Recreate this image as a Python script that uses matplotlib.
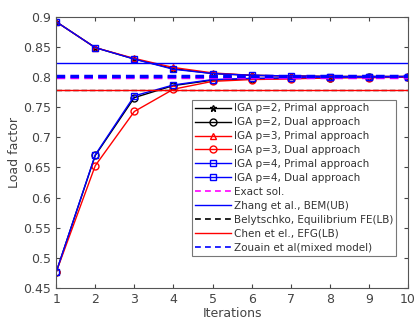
import matplotlib.pyplot as plt
import numpy as np

# iterations
it = np.arange(1, 11)

# primal (upper bound) load factors
p2_primal = [0.892, 0.849, 0.830, 0.814, 0.806, 0.803, 0.802, 0.801, 0.801, 0.801]
p3_primal = [0.892, 0.849, 0.831, 0.816, 0.807, 0.803, 0.802, 0.801, 0.801, 0.801]
p4_primal = [0.892, 0.849, 0.830, 0.813, 0.806, 0.803, 0.802, 0.801, 0.801, 0.801]

# dual (lower bound) load factors
p2_dual = [0.476, 0.670, 0.766, 0.786, 0.795, 0.797, 0.798, 0.799, 0.800, 0.800]
p3_dual = [0.476, 0.653, 0.743, 0.780, 0.793, 0.796, 0.797, 0.799, 0.799, 0.800]
p4_dual = [0.476, 0.671, 0.769, 0.787, 0.796, 0.798, 0.799, 0.800, 0.800, 0.801]

# reference solutions
exact = 0.800
zhang_bem = 0.823
belytschko = 0.778
chen_efg = 0.779
zouain = 0.802

plt.rcParams['font.family'] = ['DejaVu Sans']
fig = plt.figure(figsize=(4.19, 3.25), dpi=100)
ax = fig.add_axes([0.134, 0.114, 0.840, 0.834])

lw = 1.0
ms = 5
ax.plot(it, p2_primal, color='k', marker='*', ms=ms, lw=lw, mfc='none', label='IGA p=2, Primal approach')
ax.plot(it, p2_dual, color='k', marker='o', ms=ms, lw=lw, mfc='none', label='IGA p=2, Dual approach')
ax.plot(it, p3_primal, color='r', marker='^', ms=ms, lw=lw, mfc='none', label='IGA p=3, Primal approach')
ax.plot(it, p3_dual, color='r', marker='o', ms=ms, lw=lw, mfc='none', label='IGA p=3, Dual approach')
ax.plot(it, p4_primal, color='b', marker='s', ms=ms - 1, lw=lw, mfc='none', label='IGA p=4, Primal approach')
ax.plot(it, p4_dual, color='b', marker='s', ms=ms - 1, lw=lw, mfc='none', label='IGA p=4, Dual approach')

ax.axhline(exact, color='magenta', ls='--', lw=2.5, dashes=(2.5, 1.5), label='Exact sol.')
ax.axhline(zhang_bem, color='b', ls='-', lw=1.0, label='Zhang et al., BEM(UB)')
ax.axhline(belytschko, color='k', ls='--', lw=1.0, dashes=(4, 2), label='Belytschko, Equilibrium FE(LB)')
ax.axhline(chen_efg, color='r', ls='-', lw=1.0, label='Chen et el., EFG(LB)')
ax.axhline(zouain, color='b', ls='--', lw=2.5, dashes=(2.5, 1.5), label='Zouain et al(mixed model)')

ax.set_xlim(1, 10)
ax.set_ylim(0.45, 0.9)
ax.set_xticks(range(1, 11))
ax.set_yticks(np.arange(0.45, 0.901, 0.05))
ax.set_yticklabels(['0.45', '0.5', '0.55', '0.6', '0.65', '0.7', '0.75', '0.8', '0.85', '0.9'])
ax.tick_params(direction='in', labelsize=9, colors='#444444', length=3, top=True, right=True)
for s in ax.spines.values():
    s.set_color('#555555')
    s.set_linewidth(0.8)
ax.set_xlabel('Iterations', fontsize=9, color='#444444', labelpad=1)
ax.set_ylabel('Load factor', fontsize=9, color='#444444', labelpad=2)

leg = ax.legend(loc='lower right', fontsize=7.5, frameon=True, fancybox=False,
                edgecolor='#555555', handlelength=3.4, borderpad=0.3,
                labelspacing=0.38, handletextpad=0.3, borderaxespad=0,
                bbox_to_anchor=(0.967, 0.118))
leg.get_frame().set_linewidth(0.8)
for h in leg.get_lines():
    dashed = h.get_linestyle() == '--'
    h.set_linewidth(1.2 if dashed else 1.0)
    if dashed:
        h.set_dashes((3.5, 2.5))
for t in leg.get_texts():
    t.set_color('#333333')

fig.savefig('out.png', dpi=100)
